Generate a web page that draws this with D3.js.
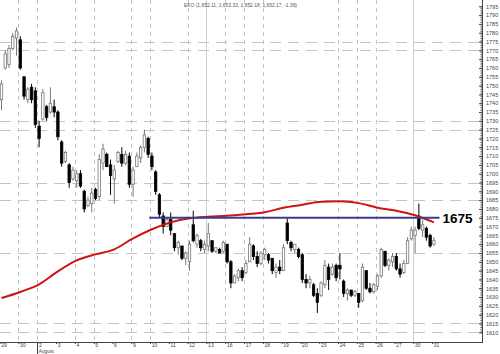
<!DOCTYPE html>
<html>
<head>
<meta charset="utf-8">
<script src="https://cdn.jsdelivr.net/npm/d3@7"></script>
<style>
body { margin: 0; background: #fff; }
svg { display: block; font-family: "Liberation Sans", Arial, sans-serif; }
</style>
</head>
<body>
<svg id="chart" width="500" height="354"></svg>
<script>
// trading days shown on the x axis (5 bars per day)
var dayLabels = ["29","30","2","3","4","5","6","9","10","11","12","13","16","17","18","19","20","23","24","25","26","27","30","31"];
var barsPerDay = 5;
var monthMark = {day: 2, text: "August"};

// OHLC, one entry per bar
var opens  = [1742,1760,1762,1771,1777,1776,1755,1742,1749,1747,1727,1731,1738,1735,1738,1735,1718,1707,1705,1697,
              1696,1700,1690,1682,1683,1691,1687,1706,1711,1705,1697,1707,1711,1706,1710,1694,1704,1709,1715,1720,
              1710,1701,1688,1676,1670,1674,1666,1658,1659,1652,1650,1671,1660,1662,1657,1659,1662,1656,1657,1656,
              1660,1650,1638,1641,1645,1644,1650,1659,1653,1649,1654,1654,1652,1644,1647,1645,1672,1661,1657,1657,
              1654,1640,1638,1637,1632,1631,1637,1647,1643,1648,1648,1639,1632,1634,1631,1632,1628,1645,1635,1633,
              1636,1642,1656,1648,1650,1653,1646,1644,1649,1663,1665,1676,1668,1669,1665,1660];
var highs  = [1753,1770,1773,1780,1783,1778,1755,1749,1751,1749,1730,1748,1739,1749,1742,1736,1719,1713,1706,1704,
              1702,1702,1691,1687,1692,1692,1711,1717,1712,1708,1705,1713,1715,1713,1712,1704,1712,1716,1725,1721,
              1712,1702,1689,1678,1675,1678,1666,1662,1659,1656,1662,1679,1666,1663,1662,1672,1662,1658,1658,1662,
              1660,1651,1643,1646,1647,1651,1664,1660,1656,1656,1658,1655,1652,1649,1651,1660,1675,1662,1660,1658,
              1655,1643,1642,1638,1635,1639,1651,1649,1649,1649,1655,1640,1635,1634,1634,1632,1649,1645,1638,1638,
              1643,1658,1656,1652,1655,1655,1649,1651,1664,1670,1670,1683,1674,1670,1666,1664];
var lows   = [1736,1759,1760,1770,1767,1759,1742,1740,1740,1726,1715,1730,1730,1734,1732,1719,1704,1706,1692,1696,
              1692,1692,1678,1681,1678,1685,1685,1702,1704,1688,1683,1706,1704,1705,1692,1687,1704,1706,1712,1709,
              1702,1688,1675,1666,1670,1665,1656,1654,1651,1648,1645,1661,1658,1656,1655,1656,1655,1655,1655,1655,
              1649,1635,1638,1639,1639,1643,1650,1651,1647,1648,1651,1649,1643,1641,1643,1645,1660,1656,1655,1652,
              1638,1635,1635,1630,1621,1630,1635,1634,1642,1639,1640,1630,1628,1630,1630,1624,1627,1634,1632,1632,
              1634,1641,1647,1645,1647,1645,1641,1643,1649,1662,1655,1668,1664,1662,1658,1659];
var closes = [1751,1768,1771,1778,1781,1760,1744,1748,1742,1728,1720,1746,1732,1740,1735,1721,1706,1712,1695,1702,
              1700,1693,1680,1685,1689,1686,1708,1714,1704,1699,1702,1712,1706,1711,1694,1702,1710,1715,1722,1711,
              1704,1690,1677,1670,1674,1668,1658,1661,1652,1655,1660,1662,1665,1658,1660,1666,1656,1658,1655,1661,
              1650,1638,1642,1645,1641,1649,1660,1653,1649,1655,1657,1651,1645,1647,1645,1658,1662,1658,1660,1653,
              1640,1638,1640,1631,1627,1638,1648,1640,1647,1641,1646,1632,1634,1631,1633,1627,1647,1635,1633,1637,
              1642,1657,1648,1651,1653,1646,1643,1649,1662,1668,1668,1669,1671,1664,1659,1662];

// moving average, sampled at every day start (bar index)
var maBars   = [0,5,10,15,20,25,30,35,40,45,50,55,60,65,70,75,80,85,90,95,100,105,110,115];
var maValues = [1629.5,1632.9,1637.2,1644.6,1650.8,1654.2,1657.1,1663.3,1668.5,1672.4,1674.7,1675.6,
                1676.1,1677.0,1678.1,1680.7,1682.4,1684.1,1684.4,1683.3,1680.7,1679.0,1676.4,1672.4];

// horizontal support level
var level = {value: 1675, fromBar: 39.3, toBar: 116.5, label: "1675"};

// grid
var hGridValues = [1775,1770,1730,1725,1695,1685,1655,1615,1610];
var vGridDays   = [1,2,4,5,7,8,10,11,12,13,14,18,19,20,22];
var solidGridDays = [11,22];

var title = "EKO (1,652.11, 1,653.33, 1,652.18, 1,652.17, -1.39)";

var svg = d3.select("#chart");
var plotRight = 482, axisY = 342;

var x = d3.scaleLinear().domain([0, 1]).range([1.5, 1.5 + 3.76]);
var y = d3.scaleLinear().domain([1610, 1795]).range([332.3, 6.3]);
var dayX = function(k){ return x(k * barsPerDay - 0.5); };

/// grid
var grid = svg.append("g");
grid.selectAll(".hg").data(hGridValues).enter().append("line")
    .attr("x1", 0).attr("x2", plotRight)
    .attr("y1", function(d){ return Math.round(y(d)) + 0.5; })
    .attr("y2", function(d){ return Math.round(y(d)) + 0.5; })
    .attr("stroke", "#c4c4c4").attr("stroke-dasharray", "11,7");
grid.selectAll(".vg").data(vGridDays).enter().append("line")
    .attr("x1", function(k){ return Math.round(dayX(k)) + 0.5; })
    .attr("x2", function(k){ return Math.round(dayX(k)) + 0.5; })
    .attr("y1", 0).attr("y2", axisY)
    .attr("stroke", function(k){ return solidGridDays.indexOf(k) >= 0 ? "#cfcfcf" : "#c4c4c4"; })
    .attr("stroke-dasharray", function(k){ return solidGridDays.indexOf(k) >= 0 ? null : "4,4"; });

/// candles
var idx = d3.range(opens.length);
var bw = 2.4;
var candles = svg.append("g").selectAll("g").data(idx).enter().append("g");
candles.append("line")
    .attr("x1", function(i){ return x(i); }).attr("x2", function(i){ return x(i); })
    .attr("y1", function(i){ return y(highs[i]); }).attr("y2", function(i){ return y(lows[i]); })
    .attr("stroke", function(i){ return closes[i] < opens[i] ? "#000" : "#777"; })
    .attr("stroke-width", 1);
candles.append("rect")
    .attr("x", function(i){ return x(i) - bw / 2; })
    .attr("width", bw)
    .attr("y", function(i){ return y(Math.max(opens[i], closes[i])); })
    .attr("height", function(i){ return Math.max(1, Math.abs(y(opens[i]) - y(closes[i]))); })
    .attr("fill", function(i){ return closes[i] < opens[i] ? "#000" : "#fff"; })
    .attr("stroke", function(i){ return closes[i] < opens[i] ? "#000" : "#777"; })
    .attr("stroke-width", 0.8);

/// moving average
var maLine = d3.line()
    .x(function(d, i){ return x(maBars[i]); })
    .y(function(d){ return y(d); })
    .curve(d3.curveMonotoneX);
svg.append("path").datum(maValues)
    .attr("d", maLine)
    .attr("fill", "none").attr("stroke", "#cc1414").attr("stroke-width", 2);

/// support line and label
svg.append("line")
    .attr("x1", x(level.fromBar)).attr("x2", x(level.toBar))
    .attr("y1", y(level.value)).attr("y2", y(level.value))
    .attr("stroke", "#3c3c8e").attr("stroke-width", 2);
svg.append("text")
    .attr("x", x(level.toBar) + 3).attr("y", y(level.value) + 4.8)
    .attr("font-size", 13.5).attr("font-weight", "bold").attr("fill", "#000")
    .text(level.label);

/// right axis
var majorTicks = d3.range(1610, 1796, 5);
var minorTicks = d3.range(1610, 1796, 1);
svg.append("g").attr("transform", "translate(" + plotRight + ",0)")
    .call(d3.axisRight(y).tickValues(minorTicks).tickSize(-1.5).tickFormat(""))
    .call(function(g){ g.select(".domain").remove(); g.selectAll("line").attr("stroke", "#666"); });
svg.append("g").attr("transform", "translate(" + plotRight + ",0)")
    .call(d3.axisRight(y).tickValues(majorTicks).tickSize(-3).tickPadding(4).tickFormat(d3.format("d")))
    .call(function(g){
        g.select(".domain").remove();
        g.selectAll("line").attr("stroke", "#444");
        g.selectAll("text").attr("font-size", 5.5).attr("fill", "#444")
         .attr("font-family", "Liberation Sans, Arial, sans-serif");
    });
svg.append("line").attr("x1", plotRight + 0.5).attr("x2", plotRight + 0.5)
    .attr("y1", 0).attr("y2", axisY + 1).attr("stroke", "#444");

/// bottom axis
var dayTicks = d3.range(dayLabels.length);
var xAxis = d3.axisBottom(d3.scaleLinear().domain([0, 1]).range([dayX(0), dayX(1)]))
    .tickValues(dayTicks).tickSize(2).tickPadding(1).tickFormat(function(k){ return dayLabels[k]; });
svg.append("g").attr("transform", "translate(0," + axisY + ")")
    .call(xAxis)
    .call(function(g){
        g.select(".domain").remove();
        g.selectAll("line").attr("stroke", "#444");
        g.selectAll("text").attr("font-size", 5).attr("fill", "#444")
         .attr("text-anchor", "start").attr("dx", 1.2).attr("dy", 2)
         .attr("font-family", "Liberation Sans, Arial, sans-serif");
    });
svg.append("line").attr("x1", 0).attr("x2", plotRight + 1)
    .attr("y1", axisY + 0.5).attr("y2", axisY + 0.5).attr("stroke", "#444");
svg.append("line")
    .attr("x1", Math.round(dayX(monthMark.day)) + 0.5).attr("x2", Math.round(dayX(monthMark.day)) + 0.5)
    .attr("y1", axisY).attr("y2", 354).attr("stroke", "#444");
svg.append("text")
    .attr("x", dayX(monthMark.day) + 1.5).attr("y", 352.6)
    .attr("font-size", 4.8).attr("fill", "#444").text(monthMark.text);

/// title
svg.append("text").attr("x", 184).attr("y", 7)
    .attr("font-size", 5).attr("fill", "#555")
    .attr("textLength", 113).attr("lengthAdjust", "spacingAndGlyphs")
    .text(title);
</script>
</body>
</html>
